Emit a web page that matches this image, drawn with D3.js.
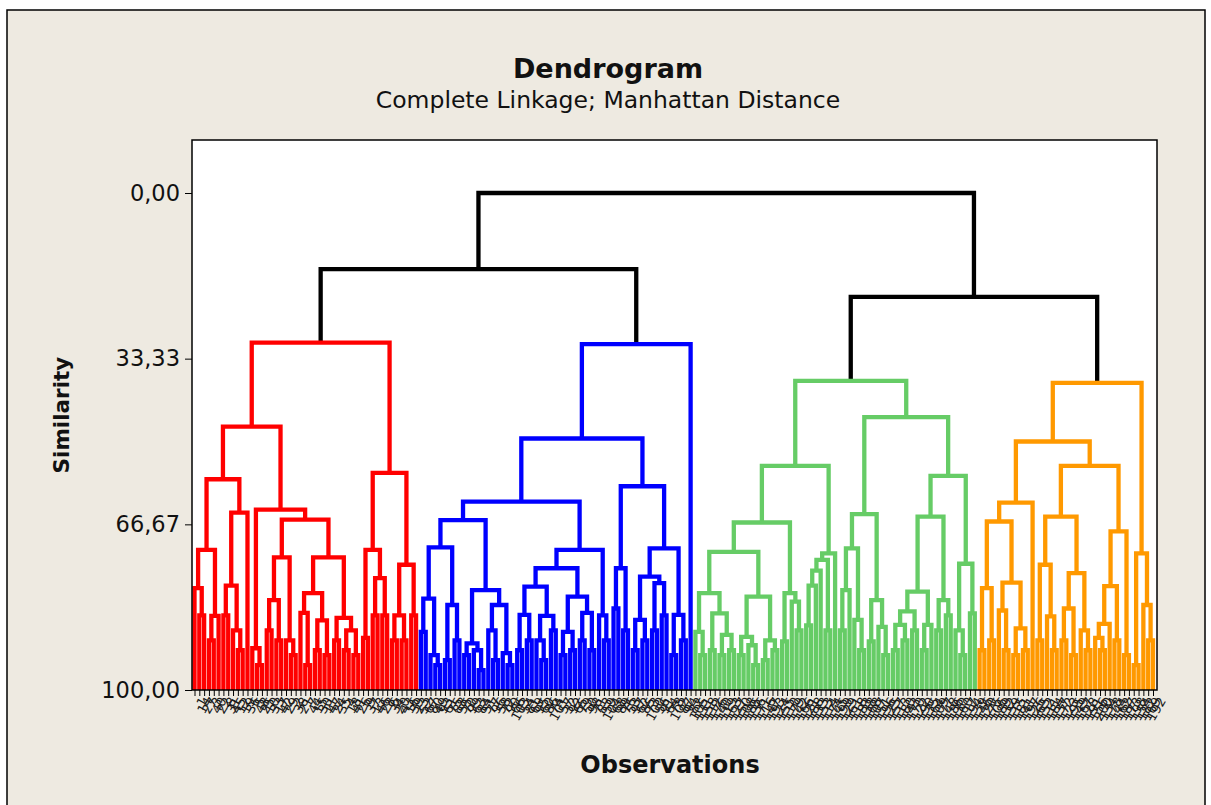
<!DOCTYPE html>
<html>
<head>
<meta charset="utf-8">
<script src="https://cdn.jsdelivr.net/npm/d3@7"></script>
<style>
  body { margin: 0; background: #fff; }
  text { font-family: "DejaVu Sans", Verdana, sans-serif; }
</style>
</head>
<body>
<svg id="chart" width="1211" height="805"></svg>
<script>
// similarity where the big groups join: root, red+blue, green+orange
var topLevels = [0, 15.3, 20.9];
var clusterColors = ["#ff0000", "#0000ff", "#66cc66", "#ff9900"];
var yTickValues = [0, 33.33, 66.67, 100];

// node = [similarity, left, right], leaf = observation number
var redTree =
[30.1,
  [47.0,
    [57.6,
      [71.8,
        [79.5, 1, [85, 14, 27]],
        [85.1, [90, 3, 40], 22]],
      [64.3,
        [79, [85, 8, 31], [88, 45, [92, 12, 19]]],
        36]],
    [63.7,
      [91.6, 5, [95, 48, 25]],
      [65.7,
        [73.3,
          [81.9, [88, 10, 33], [90, 17, 42]],
          [90, 29, [93, 2, 38]]],
        [73.3,
          [80.5,
            [84.5, 21, [95, 7, 44]],
            [86, [92, 15, 30], [93, 11, 47]]],
          [85.5, [90, 24, 35], [88, [92, 4, 18], [93, 41, 26]]]]]]],
  [56.3,
    [71.8,
      [89.5, 9, 37],
      [77.5, [85, 13, 46], [85, 28, 6]]],
    [74.8,
      [85, [90, 34, 20], [90, 43, 16]],
      [85, 39, 23]]]];

var blueTree =
[30.4,
  [49.4,
    [62.1,
      [65.8,
        [71.3,
          [81.6, [88.3, 52, 67], [93, 80, [95, 49, 93]]],
          [82.9, [94, 61, 75], [90, 88, 55]]],
        [79.9,
          [90.6, [93, 70, 99], [92, 63, [96, 84, 51]]],
          [82.9, [88, 77, [94, 96, 58]], [92.6, 72, [95, 90, 66]]]]],
      [71.8,
        [75.5,
          [79.2,
            [84.9, [92, 103, 54], [90, 81, 69]],
            [85.1, [90, 95, [94, 60, 86]], [88, 74, 101]]],
          [81.2,
            [88.3, [93, 57, 32], [92, 92, 65]],
            [84.5, [90, 79, 50], [92, 98, 71]]]],
        [85, 83, [90, 59, 104]]]],
    [59,
      [75.5, [83.6, 68, 89], [88, 76, 53]],
      [71.5,
        [77.2,
          [85.9, [92, 97, 62], [90, 85, 73]],
          [78.5, [88, 100, 56], [85, 91, 64]]],
        [84.9, [93, 78, 102], [90, 87, 94]]]]],
  82];

var greenTree =
[37.8,
  [54.9,
    [66.3,
      [72.2,
        [80.5,
          [88.3, 105, [93, 131, 158]],
          [84.6, [92, 112, 176], [88.9, [93, 140, 119], [92, 163, 127]]]],
        [81.2,
          [89.3, [93, 150, 108], [91, 185, [95, 136, 171]]],
          [90, [94, 116, 147], [92, 193, 124]]]],
      [80.5, [90.2, 155, 110], [82.2, 179, [88, 142, 166]]]],
    [72.5,
      [73.8,
        [76, [79, [87, 121, 188], 133], 153],
        [88, 114, 174]],
      145]],
  [45.1,
    [64.6,
      [71.5,
        [79.9, [88, 199, 129], 161],
        [85.9, 118, [92, 183, 138]]],
      [81.9, [90.2, 168, 107], [87.3, 151, [93, 196, 125]]]],
    [56.9,
      [65.1,
        [80.2,
          [84.2, [86.9, [92, 157, 113], [90, 180, 143]], [88, 170, 122]],
          [86.9, [92, 190, 135], 164]],
        [81.9, [88, 109, 177], [85, 148, 186]]],
      [74.6, [88, 130, [93, 160, 117]], [84.6, 194, 139]]]]];

var orangeTree =
[38.2,
  [50,
    [62.3,
      [66.1,
        [79.5, [92, 146, 120], [90, 175, 106]],
        [78.4, [84, 189, [92, 132, 159]], [87.6, [93, 115, 181], [92, 141, 197]]]],
      126],
    [54.9,
      [65.1,
        [74.8, [90, 165, 152], [85.2, 111, [92, 184, 137]]],
        [76.5, [83.6, [90, 172, 123], [93, 195, 149]], [88, 167, [92, 128, 191]]]],
      [68.1,
        [79.1, [86.7, [89.5, 156, [92, 200, 134]], 178], [90, 144, 162]],
        [93, 187, 173]]]],
  [72.5, [95, 198, 154], [82.9, 182, [90, 169, 192]]]];

function toNode(d, color) {
  if (typeof d === "number") return {obs: d, sim: 100, color: color};
  return {sim: d[0], color: color, children: [toNode(d[1], color), toNode(d[2], color)]};
}

var clusters = [redTree, blueTree, greenTree, orangeTree].map(function(t, i) {
  return toNode(t, clusterColors[i]);
});
var rootData = {sim: topLevels[0], color: "#000", children: [
  {sim: topLevels[1], color: "#000", children: [clusters[0], clusters[1]]},
  {sim: topLevels[2], color: "#000", children: [clusters[2], clusters[3]]}
]};

var svg = d3.select("#chart");

// outer panel
svg.append("rect").attr("x", 7).attr("y", 10).attr("width", 1198).attr("height", 830)
  .attr("fill", "#eeeae1").attr("stroke", "#000").attr("stroke-width", 1.5);

var plot = {left: 192, top: 140, right: 1157, bottom: 690};
svg.append("rect").attr("x", plot.left).attr("y", plot.top)
  .attr("width", plot.right - plot.left).attr("height", plot.bottom - plot.top)
  .attr("fill", "#fff");

var root = d3.hierarchy(rootData);
var leaves = root.leaves();

var x = d3.scalePoint().domain(leaves.map(function(d) { return d.data.obs; })).range([194.5, 1153]);
var y = d3.scaleLinear().domain([0, 100]).range([193, 690]);

root.eachAfter(function(n) {
  n.px = n.children ? d3.mean(n.children, function(c) { return c.px; }) : x(n.data.obs);
  n.py = y(n.data.sim);
});

var links = root.descendants().filter(function(n) { return n.children; });
svg.append("g").selectAll("path")
  .data(links)
  .enter().append("path")
  .attr("d", function(n) {
    var a = n.children[0], b = n.children[1];
    return "M" + a.px + "," + a.py + "V" + n.py + "H" + b.px + "V" + b.py;
  })
  .attr("fill", "none")
  .attr("stroke", function(n) { return n.data.color; })
  .attr("stroke-width", 4.3)
  .attr("stroke-linejoin", "miter");

// frame
svg.append("rect").attr("x", plot.left).attr("y", plot.top)
  .attr("width", plot.right - plot.left).attr("height", plot.bottom - plot.top)
  .attr("fill", "none").attr("stroke", "#000").attr("stroke-width", 1.5);

var locale = d3.formatLocale({decimal: ",", thousands: ".", grouping: [3], currency: ["", ""]});
var yAxis = d3.axisLeft(y).tickValues(yTickValues).tickFormat(locale.format(".2f")).tickSize(7).tickPadding(5);
var gy = svg.append("g").attr("transform", "translate(" + plot.left + ",0)").call(yAxis);
gy.select(".domain").remove();
gy.selectAll("text").attr("font-size", 22.5).attr("fill", "#111").style("font-family", "DejaVu Sans");

var xAxis = d3.axisBottom(x).tickSize(6).tickPadding(4);
var gx = svg.append("g").attr("transform", "translate(0," + plot.bottom + ")").call(xAxis);
gx.select(".domain").remove();
gx.selectAll("text")
  .attr("font-size", 13)
  .attr("fill", "#1a1a1a")
  .style("font-family", "DejaVu Sans")
  .attr("text-anchor", "end")
  .attr("dx", "-0.2em")
  .attr("dy", "0.5em")
  .attr("transform", "rotate(-60)");

svg.append("text").attr("x", 608).attr("y", 78).attr("text-anchor", "middle")
  .attr("font-size", 27).attr("font-weight", "bold").attr("fill", "#111").text("Dendrogram");
svg.append("text").attr("x", 608).attr("y", 108).attr("text-anchor", "middle")
  .attr("font-size", 23.5).attr("fill", "#111").text("Complete Linkage; Manhattan Distance");
svg.append("text").attr("transform", "translate(69,415) rotate(-90)").attr("text-anchor", "middle")
  .attr("font-size", 21.5).attr("font-weight", "bold").attr("fill", "#111").text("Similarity");
svg.append("text").attr("x", 670).attr("y", 773).attr("text-anchor", "middle")
  .attr("font-size", 24).attr("font-weight", "bold").attr("fill", "#111").text("Observations");
</script>
</body>
</html>
